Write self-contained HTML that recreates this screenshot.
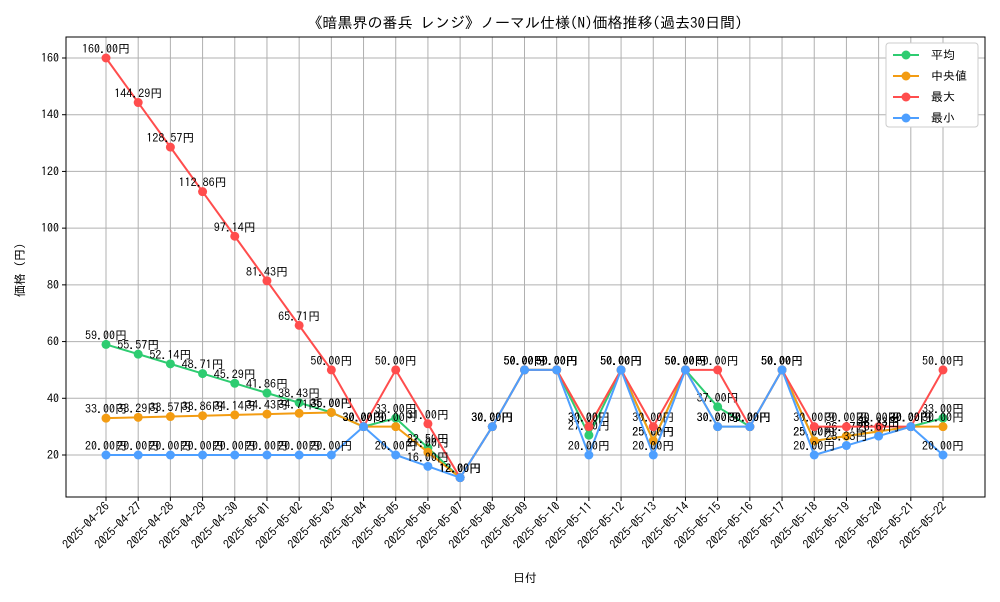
<!DOCTYPE html>
<html><head><meta charset="utf-8">
<style>
body{margin:0;background:#fff;font-family:"IPAGothic","Noto Sans CJK JP",sans-serif;}
svg text{font-family:"IPAGothic","Noto Sans CJK JP",sans-serif;}
</style></head>
<body>
<svg id="chart" width="1000" height="600" xmlns="http://www.w3.org/2000/svg"></svg>
<script>
const dates=["2025-04-26","2025-04-27","2025-04-28","2025-04-29","2025-04-30","2025-05-01","2025-05-02","2025-05-03","2025-05-04","2025-05-05","2025-05-06","2025-05-07","2025-05-08","2025-05-09","2025-05-10","2025-05-11","2025-05-12","2025-05-13","2025-05-14","2025-05-15","2025-05-16","2025-05-17","2025-05-18","2025-05-19","2025-05-20","2025-05-21","2025-05-22"];
const avgVals=[59,55.57,52.14,48.71,45.29,41.86,38.43,35,30,33,22.5,12,30,50,50,27,50,25,50,37,30,50,25,26.67,28.33,30,33];
const medVals=[33,33.29,33.57,33.86,34.14,34.43,34.71,35,30,30,21,12,30,50,50,30,50,25,50,30,30,50,25,26.67,28.33,30,30];
const maxVals=[160,144.29,128.57,112.86,97.14,81.43,65.71,50,30,50,31,12,30,50,50,30,50,30,50,50,30,50,30,30,30,30,50];
const minVals=[20,20,20,20,20,20,20,20,30,20,16,12,30,50,50,20,50,20,50,30,30,50,20,23.33,26.67,30,20];
const yTicks=[20,40,60,80,100,120,140,160];
const seriesNames=["平均","中央値","最大","最小"];
const colors=["#2ecc71","#f39c12","#ff4d4d","#4d9fff"];

const svg=document.getElementById('chart');
const NS="http://www.w3.org/2000/svg";
const L=66,R=985,T=37,B=497;
function xs(i){return 106+i*(943-106)/(dates.length-1);}
function ys(v){return 455-(v-20)*(455-58)/140;}
function el(tag,attrs,parent){const e=document.createElementNS(NS,tag);for(const k in attrs)e.setAttribute(k,attrs[k]);(parent||svg).appendChild(e);return e;}

dates.forEach((d,i)=>{const l=el('line',{x1:xs(i),x2:xs(i),y1:T,y2:B,stroke:'#b0b0b0','stroke-width':1});

});
yTicks.forEach(v=>{const l=el('line',{x1:L,x2:R,y1:ys(v),y2:ys(v),stroke:'#b0b0b0','stroke-width':1});

});
const frame=el('rect',{x:L,y:T,width:R-L,height:B-T,fill:'none',stroke:'#000','stroke-width':1});



yTicks.forEach(v=>{el('line',{x1:L-4,x2:L,y1:ys(v),y2:ys(v),stroke:'#000'});
const t=el('text',{x:L-7,y:ys(v)+4,'text-anchor':'end','font-size':12});t.textContent=v;

});
dates.forEach((d,i)=>{el('line',{x1:xs(i),x2:xs(i),y1:B,y2:B+4,stroke:'#000'});
const t=el('text',{x:xs(i)+4,y:B+10,'text-anchor':'end','font-size':12,transform:`rotate(-45 ${xs(i)+4} ${B+10})`});t.textContent=d;

});

const title=el('text',{x:525,y:28,'text-anchor':'middle','font-size':15});title.textContent="《暗黒界の番兵 レンジ》ノーマル仕様(N)価格推移(過去30日間)";


const xt=el('text',{x:525,y:582,'text-anchor':'middle','font-size':12});xt.textContent="日付";


const yt=el('text',{x:24,y:267,'text-anchor':'middle','font-size':12,transform:'rotate(-90 24 267)'});yt.textContent="価格（円）";



const all=[avgVals,medVals,maxVals,minVals];
all.forEach((vals,s)=>{
  const pts=vals.map((v,i)=>xs(i)+','+ys(v)).join(' ');
  const pl=el('polyline',{points:pts,fill:'none',stroke:colors[s],'stroke-width':2});
  
  
  vals.forEach((v,i)=>{
    const c=el('circle',{cx:xs(i),cy:ys(v),r:4.5,fill:colors[s]});
    
    
    const t=el('text',{x:xs(i),y:ys(v)-5,'text-anchor':'middle','font-size':12});t.textContent=v.toFixed(2)+'円';
    
    
  });
});

const lg=el('g',{});


el('rect',{x:886,y:43,width:92,height:84,rx:3,fill:'#fff',stroke:'#ccc'},lg);
seriesNames.forEach((n,s)=>{const y=55+s*21;
const g=el('g',{},lg);


el('line',{x1:893,x2:919,y1:y,y2:y,stroke:colors[s],'stroke-width':2},g);
el('circle',{cx:906,cy:y,r:4.5,fill:colors[s]},g);
const t=el('text',{x:931,y:y+4,'font-size':12},g);t.textContent=n;});
</script>
</body></html>
